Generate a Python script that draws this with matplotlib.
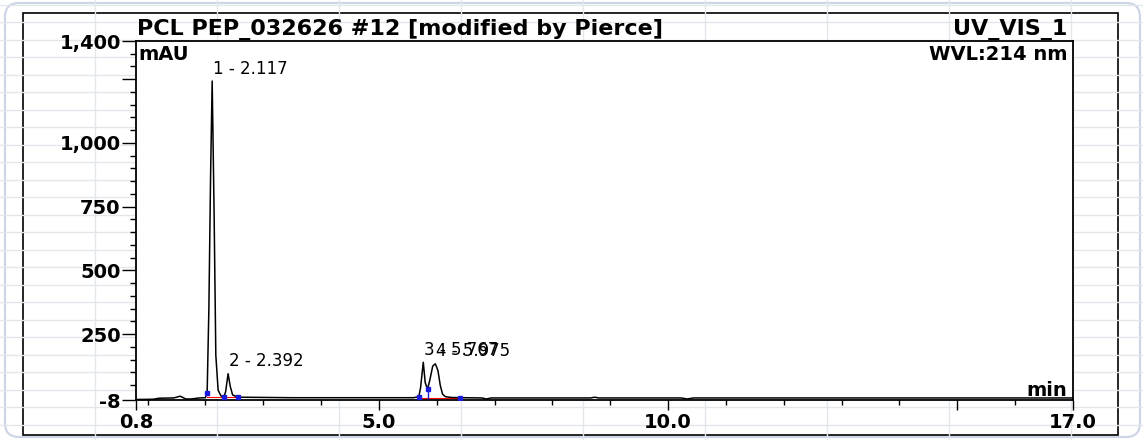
import numpy as np
import matplotlib.pyplot as plt
from matplotlib.patches import FancyBboxPatch, Rectangle

# chromatogram trace (retention time in min, absorbance in mAU)
times = [0.80, 1.10, 1.20, 1.45, 1.52, 1.56, 1.60, 1.66, 1.75, 1.90, 2.00,
         2.03, 2.06, 2.09, 2.117, 2.15, 2.18, 2.22, 2.27, 2.32,
         2.35, 2.392, 2.43, 2.47, 2.56, 3.50, 4.50, 5.60,
         5.69, 5.72, 5.767, 5.80, 5.84, 5.88, 5.93, 5.975, 6.02, 6.06, 6.10,
         6.15, 6.25, 6.41, 6.78, 6.86, 6.94, 8.66, 8.73, 8.80,
         10.22, 10.33, 10.44, 12.00, 14.00, 17.00]
mau = [-6, -5, -1, 0, 4, 7, 3, -4, -4, 0, 1,
       20, 350, 880, 1243, 730, 168, 30, 8, 4,
       25, 95, 45, 12, 3, 1, 1, 1,
       5, 40, 140, 60, 35, 70, 125, 134, 108, 50, 15,
       5, 2, 1, 0, -4, 0, 0, 3, 0,
       0, -4, 0, 0, 0, 0]

# integrated peaks
peak_names = ["1 - 2.117", "2 - 2.392", "3 - 5.767", "4 - 5.975"]
peak_t = [2.117, 2.392, 5.767, 5.975]
peak_h = [1243, 95, 140, 134]

# integration delimiters (blue) and baselines (red)
delim_t = [2.03, 2.32, 2.56, 5.69, 5.84, 6.41]
delim_v = [18, 4, 3, 5, 35, 1]
base_segs = [([2.03, 2.32], [2, 2]), ([2.32, 2.56], [2, 2]), ([5.69, 6.41], [1, 1])]

xticks = [0.8, 5.0, 10.0, 15.0, 17.0]
xlabels = ["0.8", "5.0", "10.0", "", "17.0"]
yticks = [-8, 250, 500, 750, 1000, 1250, 1400]
ylabels = ["-8", "250", "500", "750", "1,000", "", "1,400"]

W, H = 1143, 440
fig = plt.figure(figsize=(W / 100, H / 100), dpi=100)

# screenshot background: spreadsheet grid, card border, black frame
bg = fig.add_axes([0, 0, 1, 1])
bg.set_xlim(0, W)
bg.set_ylim(H, 0)
bg.axis("off")
for gx in np.arange(95, W, 122):
    bg.axvline(gx, color="#e3e6eb", lw=1)
for gy in np.arange(5, H, 17.5):
    bg.axhline(gy, color="#e3e6eb", lw=1)
bg.add_patch(FancyBboxPatch((5, 3), 1135, 434, boxstyle="round,pad=0,rounding_size=14",
                            fc="none", ec="#cdd6e6", lw=1.6))
bg.add_patch(Rectangle((23, 13), 1095, 422, fc="white", ec="black", lw=1.2))

ax = fig.add_axes([136 / W, 1 - 400 / H, (1073 - 136) / W, (400 - 41) / H])
ax.plot(times, mau, color="black", lw=1.1, zorder=3)
for xs, ys in base_segs:
    ax.plot(xs, ys, color="red", lw=0.8, zorder=2)
ax.plot([5.84, 5.84], [0, 35], color="#1a1adc", lw=1, zorder=4)
ax.plot(delim_t, delim_v, "s", ms=3, color="#1a1adc", zorder=4)

for name, t, h in zip(peak_names, peak_t, peak_h):
    ax.annotate(name, xy=(t, h), xytext=(0.5, 2.5), textcoords="offset points",
                ha="left", va="bottom", fontsize=12)

ax.set_xlim(0.8, 17.0)
ax.set_ylim(-8, 1400)
ax.set_xticks(xticks)
ax.set_xticklabels(xlabels, fontsize=14, fontweight="bold")
ax.set_xticks([m for m in range(1, 17) if m % 5], minor=True)
ax.set_yticks(yticks)
ax.set_yticklabels(ylabels, fontsize=14, fontweight="bold")
ax.set_yticks([m for m in range(50, 1400, 50) if m % 250], minor=True)
ax.tick_params(axis="x", which="major", length=7.5, width=1, pad=2)
ax.tick_params(axis="x", which="minor", length=3.5, width=1)
ax.tick_params(axis="y", which="major", length=10, width=1, pad=1)
ax.tick_params(axis="y", which="minor", length=4.5, width=1)
for sp in ax.spines.values():
    sp.set_linewidth(1.3)

ax.annotate("PCL PEP_032626 #12 [modified by Pierce]", xy=(0, 1), xycoords="axes fraction",
            xytext=(1, 4.5), textcoords="offset points", ha="left", va="baseline",
            fontsize=16, fontweight="bold")
ax.annotate("UV_VIS_1", xy=(1, 1), xycoords="axes fraction",
            xytext=(-4, 4.5), textcoords="offset points", ha="right", va="baseline",
            fontsize=16, fontweight="bold")
ax.annotate("mAU", xy=(0, 1), xycoords="axes fraction",
            xytext=(1.5, -3), textcoords="offset points", ha="left", va="top",
            fontsize=14, fontweight="bold")
ax.annotate("WVL:214 nm", xy=(1, 1), xycoords="axes fraction",
            xytext=(-4, -3), textcoords="offset points", ha="right", va="top",
            fontsize=14, fontweight="bold")
ax.annotate("min", xy=(1, 0), xycoords="axes fraction",
            xytext=(-4, 3), textcoords="offset points", ha="right", va="baseline",
            fontsize=14, fontweight="bold")

fig.savefig("out.png", dpi=100)
